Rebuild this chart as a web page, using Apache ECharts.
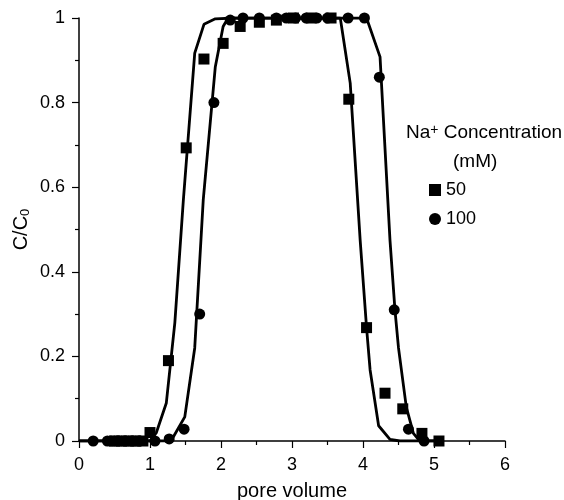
<!DOCTYPE html>
<html>
<head>
<meta charset="utf-8">
<script src="https://cdn.jsdelivr.net/npm/echarts@6/dist/echarts.min.js"></script>
<style>
  html, body { margin: 0; padding: 0; background: #fff; }
  #chart { width: 564px; height: 500px; }
</style>
</head>
<body>
<div id="chart"></div>
<script>
// measured points, [pore volume, C/C0]
var na50 = [
  [0.5, 0], [0.6, 0], [0.7, 0], [0.8, 0], [0.9, 0],
  [1.0, 0.02], [1.26, 0.19], [1.51, 0.693], [1.76, 0.903], [2.03, 0.94],
  [2.27, 0.98], [2.54, 0.99], [2.78, 0.995], [3.02, 1.0], [3.27, 1.0],
  [3.55, 1.0], [3.8, 0.808], [4.05, 0.268], [4.31, 0.113], [4.56, 0.076],
  [4.83, 0.018], [5.07, 0]
];
var na100 = [
  [0.2, 0], [0.4, 0], [0.45, 0], [0.5, 0], [0.55, 0], [0.6, 0], [0.65, 0],
  [0.7, 0], [0.75, 0], [0.8, 0], [0.85, 0], [1.07, 0], [1.27, 0.005],
  [1.48, 0.028], [1.7, 0.3], [1.9, 0.8], [2.13, 0.995], [2.31, 1.0],
  [2.54, 1.0], [2.78, 1.0], [2.92, 1.0], [3.05, 1.0], [3.2, 1.0],
  [3.35, 1.0], [3.5, 1.0], [3.79, 1.0], [4.02, 1.0], [4.23, 0.86],
  [4.44, 0.31], [4.64, 0.028], [4.86, 0]
];
// fitted curves
var fit50 = [
  [0, 0], [1.0, 0], [1.09, 0.02], [1.23, 0.09], [1.35, 0.28], [1.47, 0.57],
  [1.63, 0.917], [1.76, 0.985], [1.92, 0.998], [2.2, 1], [3.68, 1],
  [3.82, 0.846], [3.96, 0.475], [4.05, 0.268], [4.1, 0.168], [4.22, 0.036],
  [4.38, 0.004], [4.52, 0], [5.1, 0]
];
var fit100 = [
  [0, 0], [1.25, 0], [1.33, 0.01], [1.49, 0.057], [1.63, 0.22], [1.75, 0.57],
  [1.92, 0.885], [2.03, 0.98], [2.1, 1], [4.05, 1], [4.24, 0.908],
  [4.38, 0.475], [4.45, 0.31], [4.5, 0.22], [4.61, 0.08], [4.71, 0.018],
  [4.8, 0], [5.1, 0]
];

var font = "Liberation Sans";
var ink = "#000";

var myChart = echarts.init(document.getElementById("chart"));
myChart.setOption({
  animation: false,
  textStyle: { fontFamily: font },
  grid: { left: 79, right: 59, top: 18, bottom: 59, outerBoundsMode: "none", containLabel: false },
  xAxis: {
    type: "value",
    min: 0,
    max: 6,
    interval: 1,
    name: "pore volume",
    nameLocation: "middle",
    nameGap: 40,
    nameMoveOverlap: false,
    nameTextStyle: { fontSize: 20, color: ink, fontFamily: font },
    axisLine: { show: true, onZero: false, lineStyle: { color: ink, width: 1.5 } },
    axisTick: { show: true, inside: false, length: 7, lineStyle: { color: ink, width: 1.2 } },
    minorTick: { show: true, splitNumber: 2, length: 4, lineStyle: { color: ink, width: 1.2 } },
    axisLabel: { fontSize: 18, color: ink, margin: 15 },
    splitLine: { show: false }
  },
  yAxis: {
    type: "value",
    min: 0,
    max: 1,
    interval: 0.2,
    name: "{m|C/C}{s|0}",
    nameLocation: "middle",
    nameRotate: 90,
    nameGap: 47,
    nameMoveOverlap: false,
    nameTextStyle: {
      color: ink,
      rich: {
        m: { fontSize: 20, fontFamily: font, color: ink },
        s: { fontSize: 13, fontFamily: font, color: ink, verticalAlign: "bottom", padding: [8, 0, 0, 0] }
      }
    },
    axisLine: { show: true, onZero: false, lineStyle: { color: ink, width: 1.5 } },
    axisTick: { show: true, inside: false, length: 7, lineStyle: { color: ink, width: 1.2 } },
    minorTick: { show: true, splitNumber: 2, length: 4, lineStyle: { color: ink, width: 1.2 } },
    axisLabel: { fontSize: 18, color: ink, margin: 14 },
    splitLine: { show: false }
  },
  legend: {
    orient: "vertical",
    left: 424,
    top: 176,
    itemWidth: 12,
    itemHeight: 12,
    itemGap: 11,
    data: [
      { name: "50", icon: "rect" },
      { name: "100", icon: "circle" }
    ],
    textStyle: { fontSize: 18, color: ink, fontFamily: font }
  },
  graphic: [
    {
      type: "text",
      left: 406,
      top: 123,
      style: {
        text: "{m|Na}{s|+}{m| Concentration}",
        rich: {
          m: { fontSize: 19, fontFamily: font, fill: ink },
          s: { fontSize: 14, fontFamily: font, fill: ink, verticalAlign: "top", padding: [0, 0, 6, 0] }
        }
      }
    },
    {
      type: "text",
      left: 453,
      top: 152,
      style: { text: "(mM)", fontSize: 19, fontFamily: font, fill: ink }
    }
  ],
  series: [
    {
      name: "fit50",
      type: "line",
      data: fit50,
      showSymbol: false,
      lineStyle: { color: ink, width: 2.8 },
      z: 2
    },
    {
      name: "fit100",
      type: "line",
      data: fit100,
      showSymbol: false,
      lineStyle: { color: ink, width: 2.8 },
      z: 2
    },
    {
      name: "50",
      type: "scatter",
      symbol: "rect",
      symbolSize: 11,
      data: na50,
      itemStyle: { color: ink, opacity: 1 },
      z: 3
    },
    {
      name: "100",
      type: "scatter",
      symbol: "circle",
      symbolSize: 11,
      data: na100,
      itemStyle: { color: ink, opacity: 1 },
      z: 3
    }
  ]
});
</script>
</body>
</html>
